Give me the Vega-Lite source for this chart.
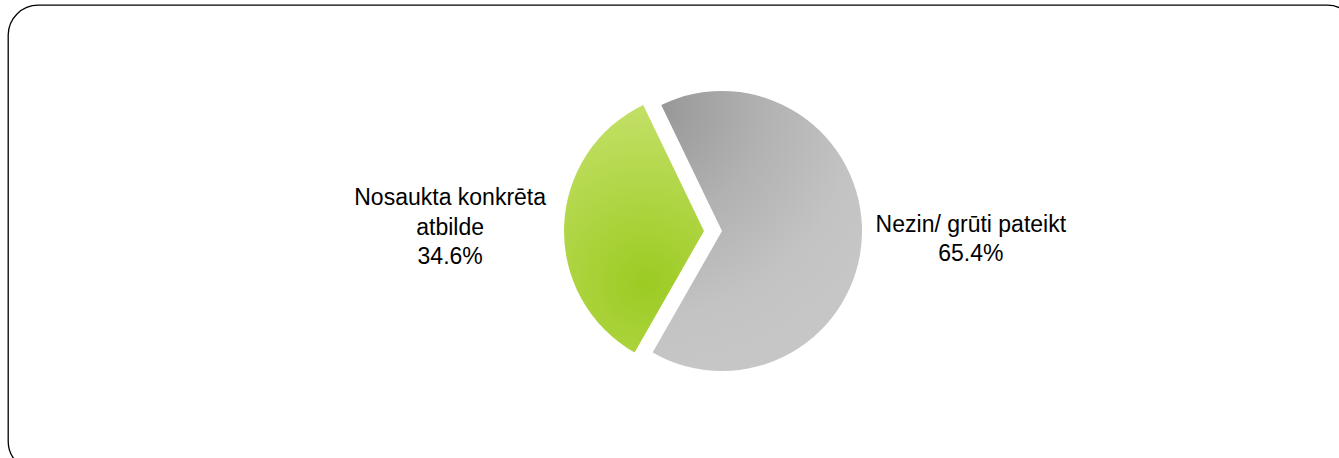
{
  "$schema": "https://vega.github.io/schema/vega-lite/v6.json",
  "width": 1339,
  "height": 458,
  "autosize": {"type": "fit", "contains": "padding"},
  "padding": {"left": 8, "top": 5, "right": -18, "bottom": -13},
  "background": "#ffffff",
  "view": {"stroke": "#000000", "strokeWidth": 1.3, "cornerRadius": 30, "fill": "#ffffff"},
  "config": {
    "view": {"stroke": "#000000", "strokeWidth": 1.3, "cornerRadius": 30},
    "text": {"font": "Liberation Sans"}
  },
  "data": {
    "values": [
      {"category": "Nezin/ grūti pateikt", "value": 65.4, "label": "Nezin/ grūti pateikt\n65.4%"},
      {"category": "Nosaukta konkrēta atbilde", "value": 34.6, "label": "Nosaukta konkrēta\natbilde\n34.6%"}
    ]
  },
  "encoding": {
    "theta": {"field": "value", "type": "quantitative", "stack": true, "scale": {"domain": [0, 100], "range": [-0.449, 5.834]}}
  },
  "layer": [
    {
      "mark": {
        "type": "arc", "outerRadius": 140, "xOffset": 39.5, "yOffset": -7, "strokeWidth": 0,
        "fill": {"gradient": "radial", "x1": 0.1, "y1": 0.05, "r1": 0, "x2": 0.1, "y2": 0.05, "r2": 0.95,
          "stops": [{"offset": 0, "color": "#949494"}, {"offset": 0.45, "color": "#b2b2b2"}, {"offset": 0.8, "color": "#c3c3c3"}, {"offset": 1, "color": "#c6c6c6"}]}
      },
      "encoding": {
        "fillOpacity": {"condition": {"test": "datum.category === 'Nezin/ grūti pateikt'", "value": 1}, "value": 0}
      }
    },
    {
      "mark": {
        "type": "arc", "outerRadius": 140, "xOffset": 21.5, "yOffset": -7, "strokeWidth": 0,
        "fill": {"gradient": "radial", "x1": 0.55, "y1": 0.72, "r1": 0, "x2": 0.55, "y2": 0.72, "r2": 0.8,
          "stops": [{"offset": 0, "color": "#9ccb22"}, {"offset": 1, "color": "#c7e26e"}]}
      },
      "encoding": {
        "fillOpacity": {"condition": {"test": "datum.category === 'Nosaukta konkrēta atbilde'", "value": 1}, "value": 0}
      }
    },
    {
      "mark": {"type": "text", "radius": 254, "xOffset": 21.5, "yOffset": -31, "fontSize": 23, "lineBreak": "\n", "lineHeight": 29.5, "align": "center", "baseline": "middle", "color": "#000000"},
      "encoding": {
        "text": {"condition": {"test": "datum.category === 'Nosaukta konkrēta atbilde'", "field": "label", "type": "nominal"}, "value": ""}
      }
    },
    {
      "mark": {"type": "text", "radius": 249, "xOffset": 39.5, "yOffset": -22, "fontSize": 23, "lineBreak": "\n", "lineHeight": 29.5, "align": "center", "baseline": "middle", "color": "#000000"},
      "encoding": {
        "text": {"condition": {"test": "datum.category === 'Nezin/ grūti pateikt'", "field": "label", "type": "nominal"}, "value": ""}
      }
    }
  ]
}
